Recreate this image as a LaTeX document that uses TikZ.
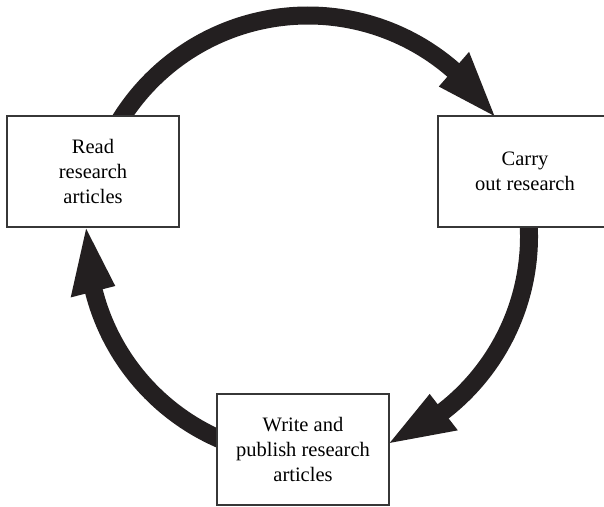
\documentclass[tikz,border=0pt]{standalone}
\usepackage{fontspec}
\setmainfont{Liberation Serif}
\usetikzlibrary{calc}
\definecolor{ink}{RGB}{35,31,32}
\definecolor{edge}{RGB}{55,55,55}
\begin{document}
\begin{tikzpicture}[x=1pt,y=1pt,
  box/.style={draw=edge, line width=1.3pt, fill=white, inner sep=0pt,
    font=\fontsize{20.5}{25}\selectfont, align=center, minimum height=111pt},
  band/.style={draw=ink, line width=18pt},
  head/.style={fill=ink}]
\useasboundingbox (0,0) rectangle (604,-506);
\coordinate (ctr) at (308,-236.5);
% top arc: read -> carry
\draw[band] ($(ctr)+(160:221)$) arc[start angle=160,end angle=47.9,radius=221];
\fill[head] ($(ctr)+(48.9:199)$) -- ($(ctr)+(32.9:222)$) -- ($(ctr)+(48.9:245)$) -- cycle;
% right arc: carry -> write
\draw[band] ($(ctr)+(10:221)$) arc[start angle=10,end angle=-53.3,radius=221];
\fill[head] ($(ctr)+(-52.3:199)$) -- ($(ctr)+(-68.4:222)$) -- ($(ctr)+(-52.3:245)$) -- cycle;
% left arc: write -> read
\draw[band] ($(ctr)+(260:221)$) arc[start angle=260,end angle=193.4,radius=221];
\fill[head] ($(ctr)+(194.4:199)$) -- ($(ctr)+(178:222)$) -- ($(ctr)+(194.4:245)$) -- cycle;
% boxes
\node[box, minimum width=172pt] (read) at (93,-171.5) {Read\\research\\articles};
\node[box, minimum width=174pt] (carry) at (525,-171.5) {Carry\\out research};
\node[box, minimum width=172pt] (write) at (303,-449.5) {Write and\\publish research\\articles};
\end{tikzpicture}
\end{document}
